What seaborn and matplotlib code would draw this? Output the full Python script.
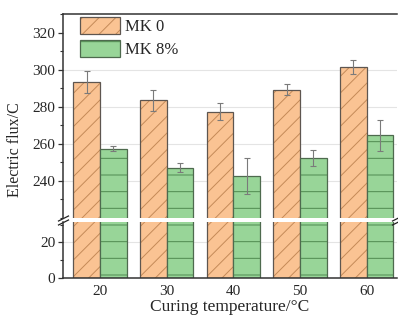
import matplotlib
matplotlib.use("Agg")
import matplotlib.pyplot as plt
import pandas as pd
import seaborn as sns
from matplotlib.ticker import MultipleLocator

# Electric flux (C) of specimens cured at different temperatures
temperatures = ["20", "30", "40", "50", "60"]
series_names = ["MK 0", "MK 8%"]
flux_mk0 = [293.2, 283.4, 277.4, 289.1, 301.3]
flux_mk8 = [257.4, 247.2, 242.6, 252.5, 264.6]
err_mk0 = [5.8, 5.8, 4.8, 3.0, 3.8]
err_mk8 = [1.3, 2.3, 9.8, 4.2, 8.4]

fill_colors = ["#fac393", "#98d598"]
edge_colors = ["#5e5650", "#4e6a4e"]
hatch_colors = ["#c48a58", "#4f8a50"]
hatches = ["//", "-"]

df = pd.DataFrame({
    "temperature": temperatures * 2,
    "series": [series_names[0]] * len(temperatures) + [series_names[1]] * len(temperatures),
    "flux": flux_mk0 + flux_mk8,
    "err": err_mk0 + err_mk8,
})

sns.set_theme(style="ticks")
plt.rcParams["font.family"] = ["Liberation Serif", "DejaVu Serif"]
plt.rcParams["hatch.linewidth"] = 0.7

W, H = 398, 322
fig = plt.figure(figsize=(W / 100, H / 100), dpi=100)
left, right = 63, 397
ax_top = fig.add_axes([left / W, (H - 218) / H, (right - left) / W, (218 - 14) / H])
ax_bot = fig.add_axes([left / W, (H - 278) / H, (right - left) / W, (278 - 222) / H])

for ax in (ax_top, ax_bot):
    ax.grid(axis="y", color="#e4e4e4", linewidth=0.8, zorder=0)
    ax.set_axisbelow(True)
    sns.barplot(data=df, x="temperature", y="flux", hue="series",
                hue_order=series_names, palette=fill_colors, saturation=1,
                errorbar=None, width=0.8, legend=False, ax=ax, zorder=2)
    for cont, ec, hc, ht in zip(ax.containers, edge_colors, hatch_colors, hatches):
        for bar in cont:
            bar.set_edgecolor(ec)
            bar.set_linewidth(0.9)
            bar.set_hatch(ht)
            bar._hatch_color = matplotlib.colors.to_rgba(hc)
    ax.set_xlim(-0.555, 4.453)
    ax.spines["right"].set_visible(False)
    for s in ("left", "bottom", "top"):
        ax.spines[s].set_color("#333333")
        ax.spines[s].set_linewidth(1.1)
    ax.set_xlabel("")
    ax.set_ylabel("")
    ax.tick_params(axis="y", which="major", length=3.5, width=0.9, color="#333333",
                   labelsize=11, pad=2)
    ax.tick_params(axis="y", which="minor", length=2, width=0.8, color="#333333")
    ax.yaxis.set_minor_locator(MultipleLocator(10))

# legend built from the bar containers of the upper panel
ax_top.legend(handles=list(ax_top.containers[:2]), labels=series_names,
              loc="upper left", bbox_to_anchor=(0.02, 1.035), frameon=False,
              fontsize=12, handlelength=2.4, handleheight=1.2,
              handletextpad=0.3, labelspacing=0.3, borderaxespad=0.2)

# error bars on the upper panel, centred on each bar
for cont, err in zip(ax_top.containers[:2], [err_mk0, err_mk8]):
    xs = [b.get_x() + b.get_width() / 2 for b in cont]
    ys = [b.get_height() for b in cont]
    ax_top.errorbar(xs, ys, yerr=err, fmt="none", ecolor="#7a7a7a",
                    elinewidth=0.8, capsize=2.5, capthick=0.8, zorder=3)

ax_top.set_ylim(220, 330)
ax_top.set_yticks([240, 260, 280, 300, 320])
ax_top.spines["bottom"].set_visible(False)
ax_top.tick_params(axis="x", bottom=False, labelbottom=False)
for gl, v in zip(ax_top.get_ygridlines(), ax_top.get_yticks()):
    if v >= 320:
        gl.set_visible(False)

ax_bot.set_ylim(0, 31.5)
ax_bot.set_yticks([0, 20])
ax_bot.spines["top"].set_visible(False)
ax_bot.tick_params(axis="x", length=0, labelsize=11, pad=5)
ax_bot.set_xlabel("Curing temperature/°C", fontsize=12.5, labelpad=1)

# break marks between the two panels
mk = dict(marker=[(-1, -0.5), (1, 0.5)], markersize=8, linestyle="none",
          color="#222222", mec="#222222", mew=0.9, clip_on=False)
ax_top.plot([0, 1], [0, 0], transform=ax_top.transAxes, **mk)
ax_bot.plot([0, 1], [1, 1], transform=ax_bot.transAxes, **mk)

fig.text(15 / W, 1 - 150 / H, "Electric flux/C", rotation=90, fontsize=11.5,
         ha="center", va="center")

fig.savefig("out.png", dpi=100)
